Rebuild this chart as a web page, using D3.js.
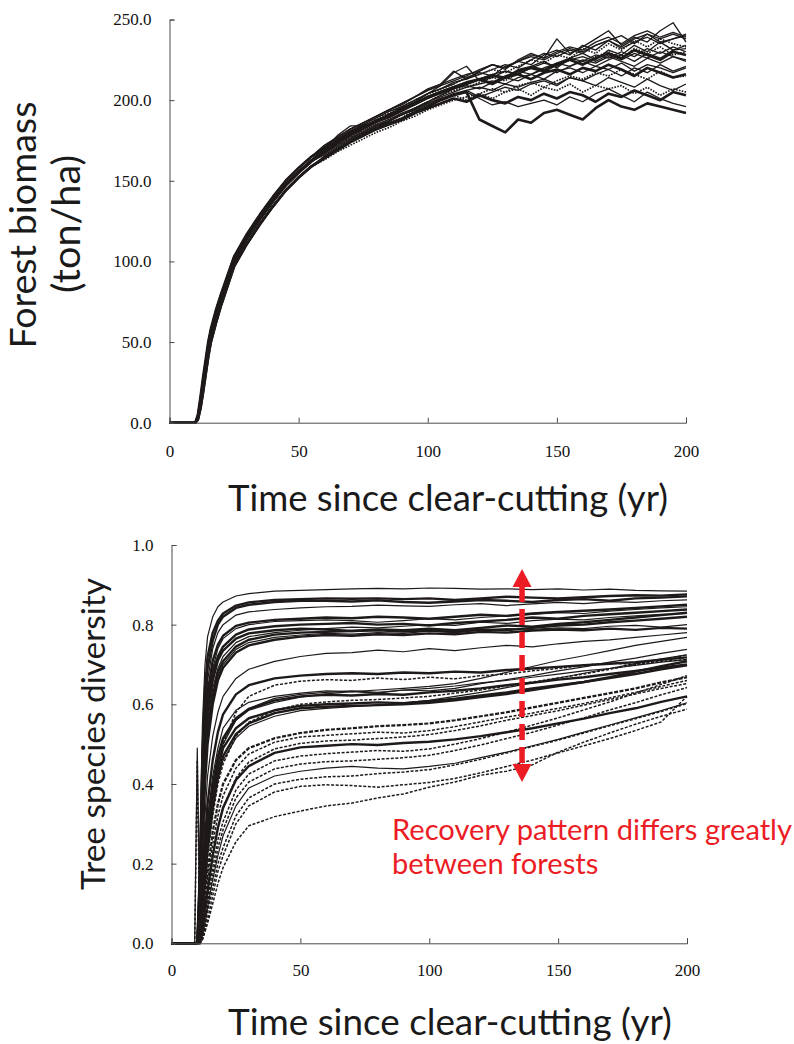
<!DOCTYPE html>
<html><head><meta charset="utf-8">
<script src="https://cdn.jsdelivr.net/npm/d3@7"></script>
<style>body{margin:0;background:#fff}svg{display:block}</style>
</head><body>
<svg id="chart" width="794" height="1044"></svg>
<script>
// ---------- Data: forest biomass (ton/ha) ----------
const bioYears = [0,9,10,11,12,13,14,15,16,18,20,25,30,35,40,45,50,55,60,65,70,75,80,85,90,95,100,105,110,115,120,125,130,135,140,145,150,155,160,165,170,175,180,185,190,195,200];
const bio01 = [0,0,0,5,16,28,39,50,58,70,80,103,117,129,140,150,158,165,171,177,182,186,190,194,197,202,206,210,218,213,218,222,219,225,229,226,238,229,233,238,243,234,239,236,243,248,236];
const bio02 = [0,0,0,3,12,23,34,45,54,66,76,100,114,126,137,147,155,162,168,174,179,183,188,191,195,199,204,207,210,214,217,215,221,224,222,228,231,228,234,231,237,240,235,241,238,241,238];
const bio03 = [0,0,0,2,9,19,30,41,50,62,73,97,111,123,134,144,152,159,164,169,174,178,182,185,188,192,196,200,203,205,188,184,180,188,186,192,194,191,188,195,200,196,194,198,196,194,192];
const bio04 = [0,0,0,2,9,19,30,41,50,62,73,97,111,123,134,144,152,159,165,170,175,179,183,186,189,193,197,200,203,205,201,197,199,196,198,200,197,202,199,204,207,203,199,205,201,198,196];
const bio05 = [0,0,0,4,14,25,36,47,55,67,77,101,115,127,138,148,156,163,170,178,184,184,187,190,194,199,204,207,211,213,216,219,222,220,225,229,227,231,229,234,237,232,236,239,235,238,241];
const bio06 = [0,0,0,3,12,23,34,45,54,66,76,100,114,126,137,147,155,162,167,172,176,180,184,188,191,195,199,203,206,208,211,214,212,217,220,218,223,225,222,227,230,226,232,229,233,228,230];
const bio07 = [0,0,0,5,16,28,39,50,58,70,80,103,117,129,140,150,158,165,170,175,180,184,187,191,195,198,202,205,208,211,213,210,214,216,213,217,219,216,220,218,222,219,215,220,217,214,216];
const bio08 = [0,0,0,2,9,19,30,41,50,62,73,97,111,123,134,144,152,159,165,170,175,179,183,187,191,195,199,203,207,210,213,211,215,218,216,220,223,221,225,223,227,224,221,226,223,227,224];
const bio09 = [0,0,0,4,14,25,36,47,55,67,77,101,115,127,138,148,156,163,168,173,178,181,185,188,192,195,199,202,205,208,210,212,210,214,216,213,218,220,217,221,219,223,218,222,220,217,220];
const bio10 = [0,0,0,2,9,19,30,41,50,62,73,97,111,123,134,144,152,159,163,168,172,176,180,183,187,190,194,197,200,202,204,201,205,207,203,208,206,210,205,209,207,209,204,208,203,207,205];
const bio11 = [0,0,0,5,16,28,39,50,58,70,80,103,117,129,140,150,158,165,171,176,181,185,189,193,196,200,204,209,217,221,212,214,218,216,221,224,220,226,229,225,231,228,234,230,236,231,232];
const bio12 = [0,0,0,3,12,23,34,45,54,66,76,100,114,126,137,147,155,162,168,174,179,183,187,190,194,198,202,205,208,210,213,215,214,218,220,218,222,225,222,226,229,226,231,228,225,230,228];
const bio13 = [0,0,0,4,14,25,36,47,55,67,77,101,115,127,138,148,156,163,167,172,177,180,184,187,191,194,198,201,203,206,202,205,208,206,210,212,209,214,212,216,219,215,220,217,222,218,221];
const bio14 = [0,0,0,3,12,23,34,45,54,66,76,100,114,126,137,147,155,162,166,171,176,180,184,187,191,194,198,201,204,206,208,206,210,208,211,213,210,214,212,209,214,211,208,213,209,206,210];
const bio15 = [0,0,0,5,16,28,39,50,58,70,80,103,117,129,140,150,158,165,172,177,182,186,190,194,198,202,206,209,212,215,219,222,220,224,228,226,230,233,231,236,239,235,240,243,239,242,239];
const bio16 = [0,0,0,2,9,19,30,41,50,62,73,97,111,123,134,144,152,159,165,170,175,179,183,186,189,194,198,201,203,200,204,207,205,209,211,208,212,215,213,217,215,219,216,213,218,214,215];
const bio17 = [0,0,0,4,14,25,36,47,55,67,77,101,115,127,138,148,156,163,169,174,179,183,187,191,194,198,202,205,208,211,213,216,218,216,220,223,221,225,227,224,228,225,229,226,230,227,225];
const bio18 = [0,0,0,2,9,19,30,41,50,62,73,97,111,123,134,144,152,159,164,169,174,178,182,185,188,192,195,198,201,199,203,200,198,202,200,204,201,205,203,199,204,202,206,203,200,205,203];
const bio19 = [0,0,0,5,16,28,39,50,58,70,80,103,117,129,140,150,158,165,172,177,182,186,190,194,198,202,207,210,213,216,218,222,220,224,227,225,229,232,230,234,237,233,238,241,236,238,240];
const bio20 = [0,0,0,4,14,25,36,47,55,67,77,101,115,127,138,148,156,163,168,173,178,182,186,190,194,197,201,205,208,211,213,216,214,219,221,219,223,226,224,228,226,230,227,232,229,233,230];
const bio21 = [0,0,0,3,12,23,34,45,54,66,76,100,114,126,137,147,155,162,167,173,178,182,186,189,193,197,201,204,207,209,207,211,214,212,216,219,217,221,224,221,225,228,224,229,226,231,234];
const bio22 = [0,0,0,5,16,28,39,50,58,70,80,103,117,129,140,150,158,165,170,176,180,185,189,192,196,200,204,207,210,214,216,219,217,221,225,223,228,226,232,229,235,231,237,233,238,235,233];
const bioSeries = [bio01,bio02,bio03,bio04,bio05,bio06,bio07,bio08,bio09,bio10,bio11,bio12,bio13,bio14,bio15,bio16,bio17,bio18,bio19,bio20,bio21,bio22];
const bioKinds = ['thin','thin','thick','thin','thin','dot','thick','thin','thin','dot','thin','thick','thin','thin','thin','dot','thin','thick','thin','thin','thin','dot'];
const bioTicksY = [0,50,100,150,200,250];
const xTicks = [0,50,100,150,200];

// ---------- Data: tree species diversity ----------
const divYears = [0,9,10,11,12,13,14,16,18,20,25,30,40,50,60,70,80,90,100,110,120,130,140,150,160,170,180,190,200];
const div01 = [0,0,0,.22,.55,.70,.77,.82,.845,.857,.872,.878,.884,.886,.888,.890,.891,.890,.892,.891,.889,.890,.888,.890,.887,.889,.886,.885,.884];
const div02 = [0,0,0,.18,.48,.64,.72,.78,.81,.828,.848,.856,.862,.864,.866,.865,.866,.864,.866,.862,.866,.870,.868,.866,.869,.872,.874,.873,.876];
const div03 = [0,0,0,.16,.44,.60,.69,.76,.80,.820,.842,.850,.857,.860,.860,.858,.861,.857,.855,.858,.862,.860,.857,.862,.864,.860,.866,.868,.871];
const div04 = [0,0,0,.14,.40,.57,.66,.74,.78,.800,.824,.832,.838,.842,.845,.846,.849,.847,.846,.850,.853,.848,.852,.856,.853,.858,.856,.860,.862];
const div05 = [0,0,0,.12,.38,.54,.63,.71,.75,.772,.797,.805,.812,.815,.818,.816,.820,.818,.815,.820,.825,.822,.828,.832,.835,.838,.842,.846,.850];
const div06 = [0,0,0,.12,.36,.52,.61,.69,.74,.765,.790,.800,.808,.810,.812,.810,.806,.810,.815,.812,.818,.822,.826,.830,.828,.834,.838,.842,.845];
const div07 = [0,0,0,.10,.34,.50,.60,.68,.72,.745,.775,.788,.796,.800,.802,.804,.800,.802,.798,.804,.808,.812,.818,.815,.822,.826,.830,.834,.838];
const div08 = [0,0,0,.10,.32,.48,.58,.66,.71,.735,.765,.778,.786,.790,.788,.784,.788,.786,.790,.786,.792,.798,.795,.802,.806,.812,.818,.824,.830];
const div09 = [0,0,0,.09,.30,.46,.56,.64,.69,.720,.755,.770,.780,.786,.790,.794,.792,.796,.800,.798,.806,.803,.810,.814,.812,.818,.822,.826,.828];
const div10 = [0,0,0,.08,.28,.44,.54,.62,.68,.708,.745,.762,.775,.780,.782,.784,.786,.783,.786,.782,.788,.786,.792,.798,.800,.806,.810,.815,.820];
const div11 = [0,0,0,.08,.26,.42,.52,.61,.67,.700,.738,.755,.768,.774,.778,.776,.780,.778,.784,.780,.786,.790,.788,.792,.790,.796,.798,.794,.800];
const div12 = [0,0,0,.07,.25,.40,.50,.60,.66,.692,.730,.748,.762,.770,.774,.772,.776,.774,.778,.776,.782,.780,.785,.788,.786,.790,.787,.792,.790];
const div13 = [0,0,0,.05,.18,.32,.42,.52,.58,.620,.665,.688,.708,.720,.728,.730,.736,.732,.740,.735,.742,.748,.744,.752,.758,.762,.768,.774,.780];
const div14 = [0,0,0,.04,.14,.26,.35,.46,.53,.575,.625,.648,.665,.672,.676,.678,.676,.680,.678,.682,.680,.686,.690,.694,.698,.702,.706,.712,.718];
const div15 = [0,0,0,0,.06,.14,.22,.34,.44,.500,.580,.620,.648,.658,.662,.660,.666,.662,.668,.664,.672,.676,.684,.690,.698,.704,.700,.708,.712];
const div16 = [0,0,0,.03,.12,.22,.31,.42,.49,.540,.585,.605,.620,.628,.634,.632,.636,.640,.645,.652,.665,.680,.695,.710,.722,.735,.748,.758,.768];
const div17 = [0,0,0,.03,.11,.21,.30,.40,.47,.515,.565,.588,.610,.620,.624,.622,.626,.624,.630,.634,.640,.648,.654,.662,.668,.676,.684,.692,.700];
const div18 = [0,0,0,.02,.10,.19,.28,.38,.46,.510,.560,.585,.605,.618,.626,.632,.628,.636,.634,.640,.652,.662,.672,.684,.694,.706,.716,.728,.738];
const div19 = [0,0,0,.02,.09,.18,.26,.36,.44,.490,.540,.565,.585,.596,.600,.602,.605,.603,.608,.614,.622,.630,.640,.648,.656,.666,.676,.688,.698];
const div20 = [0,0,0,.02,.08,.16,.24,.34,.42,.470,.525,.552,.578,.590,.594,.596,.598,.600,.604,.610,.618,.626,.636,.646,.656,.668,.682,.696,.708];
const div21 = [0,0,0,.01,.07,.15,.23,.33,.41,.460,.515,.545,.570,.584,.590,.594,.598,.604,.610,.620,.630,.642,.654,.666,.678,.690,.702,.714,.724];
const div22 = [0,0,0,0,.05,.12,.18,.28,.35,.400,.460,.490,.515,.528,.536,.540,.545,.548,.552,.560,.570,.580,.592,.604,.616,.628,.640,.655,.668];
const div23 = [0,0,0,0,.04,.10,.16,.25,.32,.370,.440,.475,.505,.518,.522,.526,.530,.528,.534,.544,.556,.568,.578,.590,.602,.616,.630,.645,.660];
const div24 = [0,0,0,0,.03,.08,.14,.22,.29,.340,.415,.455,.488,.502,.508,.510,.514,.518,.524,.534,.546,.560,.572,.584,.598,.612,.626,.640,.652];
const div25 = [0,0,0,0,.03,.08,.13,.22,.29,.340,.410,.445,.478,.492,.496,.500,.498,.503,.506,.512,.520,.530,.540,.552,.564,.578,.590,.606,.620];
const div26 = [0,0,0,0,.02,.06,.11,.19,.26,.305,.385,.425,.458,.470,.476,.480,.484,.482,.488,.500,.514,.530,.548,.566,.586,.606,.628,.650,.672];
const div27 = [0,0,0,0,.02,.05,.10,.17,.24,.285,.365,.405,.438,.450,.456,.458,.462,.466,.472,.484,.498,.514,.530,.548,.566,.586,.604,.624,.642];
const div28 = [0,0,0,0,.02,.05,.09,.16,.22,.270,.345,.390,.420,.432,.440,.444,.440,.438,.444,.452,.466,.480,.496,.512,.530,.548,.566,.584,.604];
const div29 = [0,0,0,0,.01,.04,.08,.14,.20,.240,.320,.365,.400,.412,.418,.420,.426,.430,.436,.448,.462,.478,.494,.510,.528,.546,.564,.582,.602];
const div30 = [0,0,0,0,.01,.03,.06,.12,.18,.220,.300,.345,.380,.394,.398,.396,.392,.398,.404,.414,.428,.444,.460,.478,.496,.514,.534,.556,.620];
const div31 = [0,0,0,0,.01,.03,.05,.10,.15,.190,.255,.295,.318,.332,.345,.352,.365,.375,.392,.405,.422,.432,.448,.480,.505,.528,.550,.570,.588];
const div32 = [0,0,.49,.02,.10,.20,.28,.38,.45,.500,.560,.590,.615,.625,.630,.634,.630,.636,.640,.646,.654,.660,.668,.676,.684,.690,.698,.706,.712];
const div33 = [0,0,.46,.01,.06,.14,.22,.32,.40,.450,.520,.555,.585,.600,.606,.610,.612,.616,.620,.628,.636,.646,.656,.666,.676,.688,.700,.712,.724];
const divSeries = [div01,div02,div03,div04,div05,div06,div07,div08,div09,div10,div11,div12,div13,div14,div15,div16,div17,div18,div19,div20,div21,div22,div23,div24,div25,div26,div27,div28,div29,div30,div31,div32,div33];
const divKinds = ['thin','thick','thick','thin','thick','thin','thick','thick','thin','thick','thin','thick','thin',
  'thick','dash','thin','thick','thin','thick','thick','thin',
  'dashthick','dash','dash','thick','dash','dash','thin','dash','dash','dash','thin','dash'];
const divTicksY = [0,0.2,0.4,0.6,0.8,1.0];
const arrowSpan = {year: 136, top: 0.94, bottom: 0.405};

// ---------- Drawing ----------
const svg = d3.select('#chart');
const INK = '#1f1a1a', AXIS = '#4a4a4a', RED = '#ec1c24';
const styles = {
  thin: {w: 1.2, dash: null},
  thick: {w: 2.4, dash: null},
  dot: {w: 1.5, dash: '1.6,1.3'},
  dash: {w: 1.5, dash: '3,1.6'},
  dashthick: {w: 2.2, dash: '4,1.5'}
};

function panel(opt) {
  const x = d3.scaleLinear().domain([0, 200]).range(opt.xr);
  const y = d3.scaleLinear().domain(opt.yd).range(opt.yr);
  const g = svg.append('g');
  const line = d3.line().x((d, i) => x(opt.years[i])).y(d => y(d));
  opt.series.forEach((s, i) => {
    const st = styles[opt.kinds[i]];
    g.append('path').attr('d', line(s)).attr('fill', 'none')
      .attr('stroke', INK).attr('stroke-width', st.w * (opt.wScale || 1))
      .attr('stroke-linejoin', 'round')
      .attr('stroke-dasharray', st.dash);
  });
  const ax = g.append('g').attr('transform', `translate(0,${opt.yr[0]})`)
    .call(d3.axisBottom(x).tickValues(xTicks).tickSize(-5).tickPadding(opt.xPad).tickFormat(d3.format('d')));
  const ay = g.append('g').attr('transform', `translate(${opt.xr[0]},0)`)
    .call(d3.axisLeft(y).tickValues(opt.yTicks).tickSize(-5).tickPadding(18).tickFormat(d3.format('.1f')));
  [ax, ay].forEach(a => {
    a.select('.domain').attr('stroke', AXIS).attr('stroke-width', 1);
    a.selectAll('.tick line').attr('stroke', AXIS);
    a.selectAll('.tick text').attr('fill', '#111')
      .style('font-family', '"Liberation Serif", "Times New Roman", serif').style('font-size', '17px');
  });
  return {x, y, g};
}

const topPanel = panel({xr: [169.5, 686], yr: [422.7, 19.5], yd: [0, 250], years: bioYears,
  series: bioSeries, kinds: bioKinds, yTicks: bioTicksY, xPad: 22, wScale: 1.1});
const botPanel = panel({xr: [171.5, 687], yr: [943.3, 545], yd: [0, 1], years: divYears,
  series: divSeries, kinds: divKinds, yTicks: divTicksY, xPad: 21});

const TF = 'Lato, "Open Sans", sans-serif';
function fitText(sel, width) {
  const len = sel.node().getComputedTextLength();
  const fs = parseFloat(sel.style('font-size'));
  sel.style('font-size', (fs * width / len).toFixed(2) + 'px');
}
const t1 = svg.append('text').attr('x', 448).attr('y', 511).attr('text-anchor', 'middle')
  .style('font-family', TF).style('font-size', '36px').attr('fill', '#1a1a1a')
  .text('Time since clear-cutting (yr)');
fitText(t1, 440);
const t2 = svg.append('text').attr('x', 450).attr('y', 1035).attr('text-anchor', 'middle')
  .style('font-family', TF).style('font-size', '36px').attr('fill', '#1a1a1a')
  .text('Time since clear-cutting (yr)');
fitText(t2, 444);
const yt1 = svg.append('text').attr('transform', 'translate(36,225) rotate(-90)').attr('text-anchor', 'middle')
  .style('font-family', TF).style('font-size', '36px').attr('fill', '#1a1a1a').text('Forest biomass');
fitText(yt1, 247);
const yt2 = svg.append('text').attr('transform', 'translate(80,224) rotate(-90)').attr('text-anchor', 'middle')
  .style('font-family', TF).style('font-size', '36px').attr('fill', '#1a1a1a').text('(ton/ha)');
fitText(yt2, 138);
const yt3 = svg.append('text').attr('transform', 'translate(105,734) rotate(-90)').attr('text-anchor', 'middle')
  .style('font-family', TF).style('font-size', '36px').attr('fill', '#1a1a1a').text('Tree species diversity');
fitText(yt3, 312);

const ann1 = svg.append('text').attr('x', 392).attr('y', 840)
  .style('font-family', TF).style('font-size', '26px').attr('fill', RED).text('Recovery pattern differs greatly');
fitText(ann1, 400);
const ann2 = svg.append('text').attr('x', 392).attr('y', 874)
  .style('font-family', TF).style('font-size', parseFloat(ann1.style('font-size')) + 'px').attr('fill', RED).text('between forests');

const axc = botPanel.x(arrowSpan.year), yTop = botPanel.y(arrowSpan.top), yBot = botPanel.y(arrowSpan.bottom);
const head = 18, hw = 9.5;
const ga = svg.append('g');
ga.append('line').attr('x1', axc).attr('x2', axc).attr('y1', yTop + head - 1).attr('y2', yBot - head + 1)
  .attr('stroke', RED).attr('stroke-width', 5.5).attr('stroke-dasharray', '16,7');
ga.append('path').attr('d', `M${axc},${yTop} L${axc - hw},${yTop + head} L${axc + hw},${yTop + head} Z`).attr('fill', RED);
ga.append('path').attr('d', `M${axc},${yBot} L${axc - hw},${yBot - head} L${axc + hw},${yBot - head} Z`).attr('fill', RED);
</script>
</body></html>
